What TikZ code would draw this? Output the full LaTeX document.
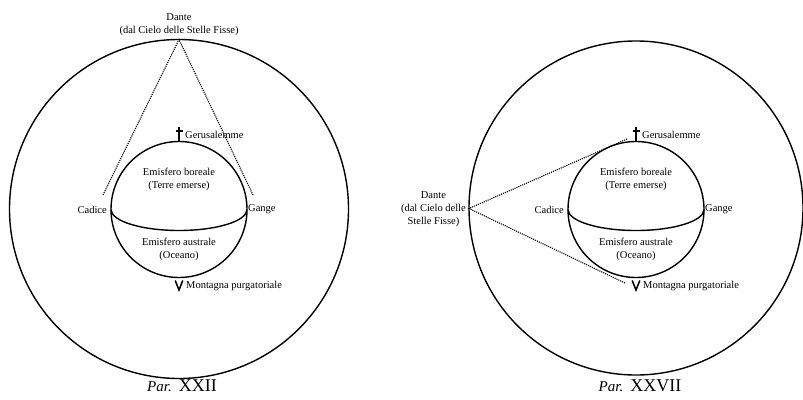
\documentclass[tikz,border=0pt]{standalone}
\usepackage{fontspec}
\setmainfont{Liberation Serif}
\usetikzlibrary{positioning}
\tikzset{
  label text/.style={font=\fontsize{10.5}{13}\selectfont, inner sep=1pt},
  caption text/.style={font=\fontsize{18}{20}\selectfont, inner sep=0pt, anchor=base},
  sight line/.style={densely dotted, line width=1.1pt},
  globe line/.style={line width=1.4pt},
}
\newcommand{\parcap}[1]{{\fontsize{15}{18}\selectfont\textit{Par.}}\hspace{7pt}#1}
\begin{document}
\begin{tikzpicture}[x=1pt,y=-1pt]
  \useasboundingbox (0,0) rectangle (803,399);
  % cielo delle stelle fisse
  \draw[globe line] (179,209) circle (169.5pt);
  \draw[globe line] (636,208) circle (167pt);
  % la terra, due volte
  \foreach \cx/\g in {179/L,636/R}{
    \coordinate (c\g) at (\cx,209.5);
    \coordinate (cadice\g) at (\cx-68,209.5);
    \coordinate (gange\g) at (\cx+68,209.5);
    \coordinate (top\g) at (\cx,141.5);
    \coordinate (bot\g) at (\cx,277.5);
    \draw[globe line] (c\g) circle (68pt);
    \draw[globe line] (cadice\g) arc[start angle=180, end angle=360, x radius=68pt, y radius=21pt];
    \draw[line width=1.5pt] (top\g) -- ++(0,-15);
    \draw[line width=1.1pt] (\cx-3.5,131) -- (\cx+3.5,131);
    \draw[line width=1.5pt] (\cx-3.8,280.5) -- (\cx,290) -- (\cx+3.8,280.5);
    \node[label text, anchor=west] (jer\g) at (\cx+5,135) {Gerusalemme};
    \node[label text, anchor=west] (purg\g) at (\cx+6,286) {Montagna purgatoriale};
    \node[label text, left=3pt of cadice\g] (cadtext\g) {Cadice};
    \node[label text, right=0pt of gange\g] (gantext\g) {Gange};
    \node[label text, align=center] (bor\g) at (\cx,179.5) {Emisfero boreale\\(Terre emerse)};
    \node[label text, align=center] (aus\g) at (\cx,249) {Emisfero australe\\(Oceano)};
  }
  % Par. XXII
  \coordinate (danteL) at (179,39.5);
  \coordinate (tipL1) at (103,195);
  \coordinate (tipL2) at (253,195);
  \node[label text, align=center, anchor=south] (dantetextL) at (179,37) {Dante\\(dal Cielo delle Stelle Fisse)};
  \draw[sight line] (tipL1) -- (danteL) -- (tipL2);
  \node[caption text] (parL) at (182,391) {\parcap{XXII}};
  % Par. XXVII
  \coordinate (danteR) at (469,208.5);
  \coordinate (tipR1) at (627,139);
  \coordinate (tipR2) at (625,283);
  \node[label text, align=center, anchor=east] (dantetextR) at (467,209) {Dante\\(dal Cielo delle\\Stelle Fisse)};
  \draw[sight line] (tipR1) -- (danteR) -- (tipR2);
  \node[caption text] (parR) at (640,391) {\parcap{XXVII}};
\end{tikzpicture}
\end{document}
